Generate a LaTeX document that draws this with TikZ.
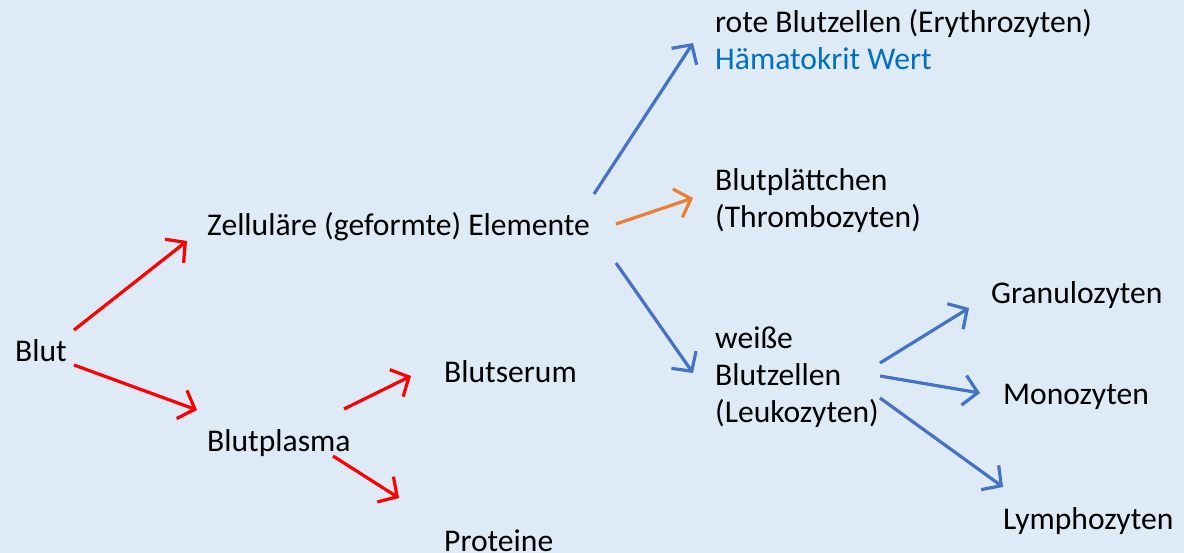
\documentclass[tikz,border=0pt]{standalone}
\usepackage{fontspec}
\setmainfont{Carlito}
\usetikzlibrary{arrows.meta}
\definecolor{bg}{HTML}{DEEAF6}
\definecolor{ared}{HTML}{FF0000}
\definecolor{ablue}{HTML}{4472C4}
\definecolor{aorange}{HTML}{ED7D31}
\definecolor{hblue}{HTML}{0070C0}
\tikzset{
  lbl/.style={font=\fontsize{31.6}{37}\selectfont, inner sep=0pt, anchor=base west, align=left, text=black},
  arr/.style={line width=3.2pt, -{Straight Barb[length=14pt,width=30pt]}},
  redarr/.style={arr, draw=ared},
  bluearr/.style={arr, draw=ablue},
  orarr/.style={arr, draw=aorange}
}
\begin{document}
\begin{tikzpicture}[x=1pt,y=-1pt]
\fill[bg] (0,0) rectangle (1184,553);
\useasboundingbox (0,0) rectangle (1184,553);
\node[lbl] (blut) at (15,362) {Blut};
\node[lbl] (zell) at (207,236) {Zelluläre (geformte) Elemente};
\node[lbl] (rote) at (715,70) {rote Blutzellen (Erythrozyten)\\\textcolor{hblue}{Hämatokrit Wert}};
\node[lbl] (plt) at (715,228) {Blutplättchen\\(Thrombozyten)};
\node[lbl] (weiss) at (715,422) {weiße\\Blutzellen\\(Leukozyten)};
\node[lbl] (gran) at (991,304) {Granulozyten};
\node[lbl] (mono) at (1003,405) {Monozyten};
\node[lbl] (lymph) at (1003,529) {Lymphozyten};
\node[lbl] (serum) at (444,383) {Blutserum};
\node[lbl] (plasma) at (207,451) {Blutplasma};
\node[lbl] (prot) at (444,551) {Proteine};

\draw[redarr] ([shift={(59,-32)}]blut.base west) -- ([shift={(-20,5)}]zell.base west);
\draw[redarr] ([shift={(59,3)}]blut.base west) -- ([shift={(-10,-41)}]plasma.base west);
\draw[bluearr] ([shift={(387,-42)}]zell.base west) -- ([shift={(-22,-27)}]rote.base west);
\draw[orarr] ([shift={(409,-12)}]zell.base west) -- ([shift={(-22,-30)}]plt.base west);
\draw[bluearr] ([shift={(409,27)}]zell.base west) -- ([shift={(-22,-49)}]weiss.base west);
\draw[redarr] ([shift={(137,-42)}]plasma.base west) -- ([shift={(-33,-7)}]serum.base west);
\draw[redarr] ([shift={(126,5)}]plasma.base west) -- ([shift={(-45,-53)}]prot.base west);
\draw[bluearr] ([shift={(165,-59)}]weiss.base west) -- ([shift={(-22,4)}]gran.base west);
\draw[bluearr] ([shift={(165,-46)}]weiss.base west) -- ([shift={(-23,-12)}]mono.base west);
\draw[bluearr] ([shift={(165,-24)}]weiss.base west) -- ([shift={(0,-42)}]lymph.base west);
\end{tikzpicture}
\end{document}
